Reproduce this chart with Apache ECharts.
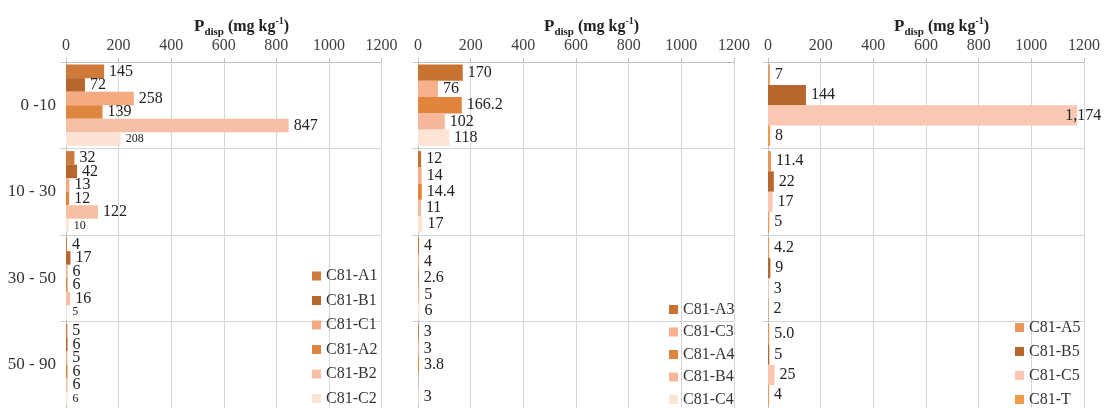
<!DOCTYPE html>
<html><head><meta charset="utf-8">
<script src="https://cdn.jsdelivr.net/npm/echarts@6/dist/echarts.min.js"></script>
<style>html,body{margin:0;padding:0;background:#fff}#c{width:1106px;height:408px}</style>
</head><body><div id="c"></div>
<script>
var categories = ['0 -10', '10 - 30', '30 - 50', '50 - 90'];
var xTicks = [0, 200, 400, 600, 800, 1000, 1200];

// Panel 1
var p1Names = ['C81-A1', 'C81-B1', 'C81-C1', 'C81-A2', 'C81-B2', 'C81-C2'];
var A1 = [145, 32, 4, 5];
var B1 = [72, 42, 17, 6];
var C1 = [258, 13, 6, 5];
var A2 = [139, 12, 6, 6];
var B2 = [847, 122, 16, 6];
var C2 = [208, 10, 5, 6];
// Panel 2
var p2Names = ['C81-A3', 'C81-C3', 'C81-A4', 'C81-B4', 'C81-C4'];
var A3 = [170, 12, 4, 3];
var C3 = [76, 14, 4, 3];
var A4 = ['166.2', '14.4', '2.6', '3.8'];
var B4 = [102, 11, 5, '-'];
var C4 = [118, 17, 6, 3];
// Panel 3
var p3Names = ['C81-A5', 'C81-B5', 'C81-C5', 'C81-T'];
var A5 = [7, '11.4', '4.2', '5.0'];
var B5 = [144, 22, 9, 5];
var C5 = [1174, 17, 3, 25];
var T = [8, 5, 2, 4];

var p1Colors = ['#cd7a3a', '#b8652e', '#f4ab82', '#de8540', '#f7c0a4', '#fce4d4'];
var p2Colors = ['#c97333', '#f6b08c', '#e0843e', '#f5b89b', '#fde5d5'];
var p3Colors = ['#e9965a', '#b8652e', '#f9c7b2', '#f09a4a'];

var FONT = 'Liberation Serif';
var chart = echarts.init(document.getElementById('c'));

var gridsPos = [{left: 66, width: 315.5}, {left: 418, width: 316}, {left: 768, width: 316}];
var grids = gridsPos.map(function (g) { return {left: g.left, width: g.width, top: 62, height: 351, containLabel: false}; });

var xAxes = gridsPos.map(function (g, i) {
  return {
    type: 'value', gridIndex: i, position: 'top', min: 0, max: 1200, interval: 200,
    axisLine: {show: true, lineStyle: {color: '#bfbfbf'}},
    axisTick: {show: true, length: 4, lineStyle: {color: '#bfbfbf'}},
    splitLine: {show: true, lineStyle: {color: '#d6d6d6'}},
    axisLabel: {fontFamily: FONT, fontSize: 16, color: '#404040', margin: 8,
      formatter: function (v) { return xTicks.indexOf(v) >= 0 ? String(v) : ''; }}
  };
});

var yAxes = gridsPos.map(function (g, i) {
  return {
    type: 'category', gridIndex: i, data: categories, inverse: true,
    axisLine: {show: true, lineStyle: {color: '#bfbfbf'}},
    axisTick: {show: true, length: 6, lineStyle: {color: '#d0d0d0'}},
    splitLine: {show: true, lineStyle: {color: '#d6d6d6'}},
    axisLabel: {show: i === 0, fontFamily: FONT, fontSize: 17, color: '#333', margin: 10}
  };
});

function buildSeries(names, arrays, colors, gi, smallLast) {
  return names.map(function (n, k) {
    var data = arrays[k].map(function (v) {
      if (Number(v) > 1100) {
        return {value: v, label: {offset: [-17, 0]}};
      }
      return v;
    });
    return {
      type: 'bar', name: n, xAxisIndex: gi, yAxisIndex: gi, data: data,
      barGap: '0%', barCategoryGap: '6%',
      itemStyle: {color: colors[k]},
      label: {show: true, position: 'right', distance: 5, fontFamily: FONT,
        fontSize: (smallLast && k === names.length - 1) ? 12 : 16, color: '#222',
        formatter: function (p) {
          var v = arrays[k][p.dataIndex];
          if (v === '-' || v == null) return '';
          if (Number(v) >= 1000) return Number(v).toLocaleString('en-US');
          return String(v);
        }}
    };
  });
}

var series = []
  .concat(buildSeries(p1Names, [A1, B1, C1, A2, B2, C2], p1Colors, 0, true))
  .concat(buildSeries(p2Names, [A3, C3, A4, B4, C4], p2Colors, 1, false))
  .concat(buildSeries(p3Names, [A5, B5, C5, T], p3Colors, 2, false));

function legend(names, left, top, gap) {
  return {data: names, orient: 'vertical', left: left, top: top, height: 300, itemGap: gap, padding: 0,
    itemWidth: 9, itemHeight: 9, icon: 'rect', selectedMode: false,
    textStyle: {fontFamily: FONT, fontSize: 16, color: '#333'}};
}

var titleRich = {
  a: {fontFamily: FONT, fontSize: 16, fontWeight: 'bold', color: '#222', lineHeight: 22, verticalAlign: 'middle'},
  p: {fontFamily: FONT, fontSize: 17, fontWeight: 'bold', color: '#222', lineHeight: 22, verticalAlign: 'middle'},
  b: {fontFamily: FONT, fontSize: 11, fontWeight: 'bold', color: '#222', lineHeight: 22, verticalAlign: 'bottom'},
  c: {fontFamily: FONT, fontSize: 10, fontWeight: 'bold', color: '#222', lineHeight: 22, verticalAlign: 'top'}
};
var titleText = '{p|P}{b|disp}{a| (mg kg}{c|-1}{a|)}';
function title(left) {
  return {text: titleText, left: left, top: 11, textStyle: {fontFamily: FONT, rich: titleRich}};
}

chart.setOption({
  animation: false,
  textStyle: {fontFamily: FONT},
  title: [title(189), title(539), title(889)],
  grid: grids,
  xAxis: xAxes,
  yAxis: yAxes,
  legend: [legend(p1Names, 312, 268, 8.5), legend(p2Names, 669, 301.5, 6.5), legend(p3Names, 1015, 319.5, 8)],
  series: series
});
</script>
</body></html>
